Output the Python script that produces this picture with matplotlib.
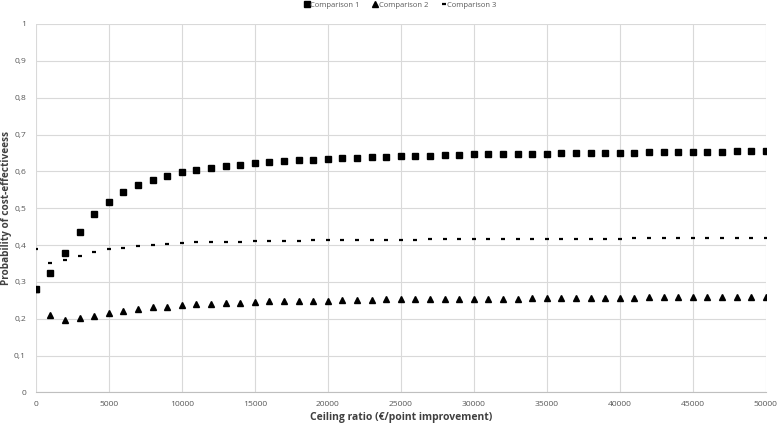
import numpy as np
import matplotlib.pyplot as plt
from matplotlib.ticker import FuncFormatter

plt.rcParams['font.family'] = ['Open Sans', 'DejaVu Sans']

# ceiling ratio (EUR per point improvement)
ceiling = list(range(0, 50001, 1000))

comparison_1 = [0.280, 0.323, 0.379, 0.436, 0.484, 0.518, 0.544, 0.563, 0.577, 0.588,
                0.597, 0.604, 0.610, 0.615, 0.618, 0.622, 0.626, 0.628, 0.630, 0.632,
                0.634, 0.636, 0.637, 0.638, 0.640, 0.641, 0.642, 0.643, 0.644, 0.645,
                0.646, 0.646, 0.647, 0.647, 0.648, 0.648, 0.649, 0.650, 0.650, 0.651,
                0.651, 0.651, 0.652, 0.652, 0.653, 0.653, 0.653, 0.653, 0.654, 0.655,
                0.655]

comparison_2 = [0.280, 0.209, 0.198, 0.201, 0.208, 0.217, 0.222, 0.227, 0.231, 0.233,
                0.237, 0.239, 0.241, 0.243, 0.243, 0.245, 0.247, 0.247, 0.249, 0.249,
                0.249, 0.251, 0.251, 0.251, 0.253, 0.253, 0.253, 0.253, 0.255, 0.255,
                0.255, 0.255, 0.255, 0.255, 0.257, 0.257, 0.257, 0.257, 0.257, 0.257,
                0.257, 0.257, 0.259, 0.259, 0.259, 0.259, 0.259, 0.259, 0.259, 0.259,
                0.259]

comparison_3 = [0.389, 0.351, 0.359, 0.370, 0.380, 0.389, 0.393, 0.397, 0.401, 0.403,
                0.406, 0.408, 0.408, 0.409, 0.409, 0.411, 0.411, 0.412, 0.412, 0.413,
                0.413, 0.414, 0.414, 0.414, 0.415, 0.415, 0.415, 0.416, 0.416, 0.416,
                0.417, 0.417, 0.417, 0.417, 0.417, 0.417, 0.417, 0.417, 0.417, 0.417,
                0.417, 0.419, 0.419, 0.419, 0.419, 0.419, 0.419, 0.419, 0.419, 0.419,
                0.419]

labels = ['Comparison 1', 'Comparison 2', 'Comparison 3']

fig = plt.figure(figsize=(7.77, 4.28), dpi=100)
ax = fig.add_axes([0.046, 0.083, 0.9395, 0.861])

ax.plot(ceiling, comparison_1, 's', color='black', markersize=4.4, label=labels[0], zorder=3)
ax.plot(ceiling, comparison_2, '^', color='black', markersize=4.2, label=labels[1], zorder=3)
ax.plot(ceiling, comparison_3, '_', color='black', markersize=3.5, markeredgewidth=1.6,
        label=labels[2], zorder=3)

ax.set_xlim(0, 50000)
ax.set_ylim(0, 1)
ax.set_xticks(np.arange(0, 50001, 5000))
ax.set_yticks(np.arange(0, 1.01, 0.1))
ax.yaxis.set_major_formatter(FuncFormatter(lambda v, p: ('%g' % round(v, 1)).replace('.', ',')))
ax.xaxis.set_major_formatter(FuncFormatter(lambda v, p: '%d' % v))

ax.grid(True, color='#d9d9d9', linewidth=0.8)
ax.set_axisbelow(True)
for s in ['top', 'right', 'left']:
    ax.spines[s].set_visible(False)
ax.spines['bottom'].set_color('#bfbfbf')
ax.tick_params(length=0, labelsize=6.1, labelcolor='#595959')
ax.tick_params(axis='y', pad=7)
ax.tick_params(axis='x', pad=6)

ax.set_xlabel('Ceiling ratio (€/point improvement)', fontsize=7.5, fontweight='bold',
              color='#404040', labelpad=3)
ax.set_ylabel('Probability of cost-effectiveess', fontsize=7.2, fontweight='bold',
              color='#404040')
ax.yaxis.set_label_coords(-0.033, 0.5)

leg = fig.legend(loc='upper center', bbox_to_anchor=(0.515, 1.012), ncol=3, frameon=False,
                 fontsize=5.5, handletextpad=0.1, columnspacing=1.6, handlelength=0.8,
                 markerscale=0.9)
for t in leg.get_texts():
    t.set_color('#595959')

fig.savefig('out.png', dpi=100)
